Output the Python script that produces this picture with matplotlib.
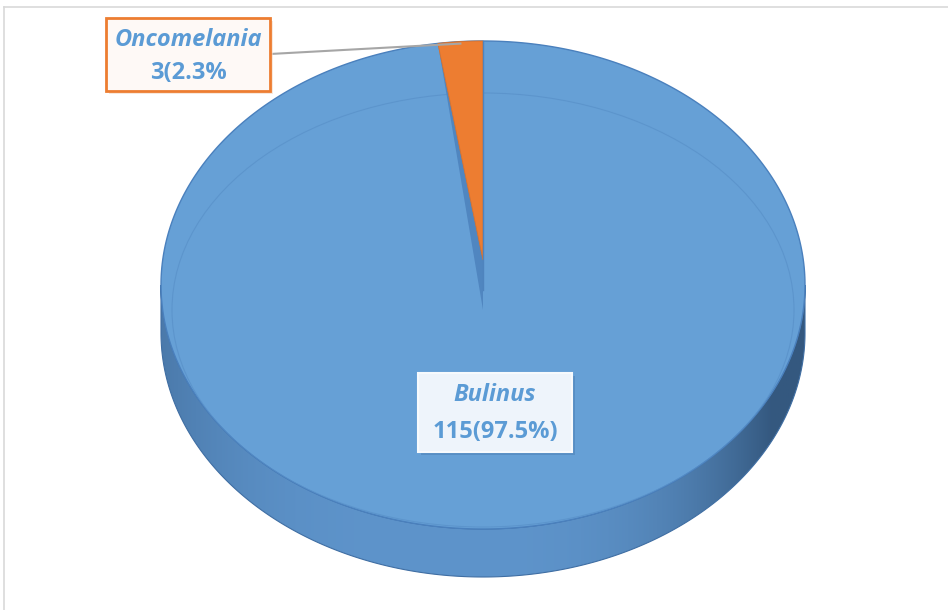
import numpy as np
import matplotlib.pyplot as plt
from matplotlib.patches import Polygon, Rectangle, Ellipse
from matplotlib.colors import to_rgb

# data
genera = ["Bulinus", "Oncomelania"]
counts = [115, 3]
value_labels = ["115(97.5%)", "3(2.3%"]
slice_colors = ["#66A0D6", "#ED7D31"]
text_color = "#5B9BD5"

W, H = 948, 610
cx, cy = 483, 285      # centre of top face (pixels)
rx, ry = 322, 244      # radii of top face
depth = 48             # thickness of the pie
persp = 0.88           # perspective squeeze of angles near the back rim


def rim(t):
    return cx + rx * np.cos(t), cy - ry * np.sin(t)


def main():
    fig = plt.figure(figsize=(W / 100, H / 100), dpi=100)
    ax = fig.add_axes([0, 0, 1, 1])
    ax.set_xlim(0, W)
    ax.set_ylim(H, 0)
    ax.axis("off")

    # chart frame (only top and left edges visible)
    ax.plot([4.5, 4.5], [6.5, H], color="#D9D9D9", lw=1.2)
    ax.plot([4.5, W], [6.5, 6.5], color="#D9D9D9", lw=1.2)

    # side wall of the pie
    t = np.linspace(np.pi, 2 * np.pi, 300)
    xs, ys = rim(t)
    side = np.column_stack([np.r_[xs, xs[::-1]], np.r_[ys, ys[::-1] + depth]])
    side_patch = Polygon(side, closed=True, facecolor="none", edgecolor="#3F6EA3", lw=0.8, zorder=2)
    ax.add_patch(side_patch)
    u = np.linspace(-1, 1, 400)
    light = np.array(to_rgb("#5E94CB"))
    dark_l = np.array(to_rgb("#44709F"))
    dark_r = np.array(to_rgb("#34587F"))
    w = np.clip(1 - np.abs(u + 0.1) ** 3, 0, 1)
    edge = np.where(u[:, None] < -0.1, dark_l, dark_r)
    grad = edge * (1 - w[:, None]) + light * w[:, None]
    img = ax.imshow(grad[None, :, :], extent=(cx - rx, cx + rx, cy + ry + depth, cy),
                    aspect="auto", zorder=1)
    img.set_clip_path(side_patch)

    # top face: big slice
    tt = np.linspace(0, 2 * np.pi, 600)
    tx, ty = rim(tt)
    top = Polygon(np.column_stack([tx, ty]), closed=True, facecolor=slice_colors[0],
                  edgecolor="#4A80BD", lw=1.0, zorder=3)
    ax.add_patch(top)
    bevel = Ellipse((cx, cy + 25), 2 * (rx - 11), 2 * (ry - 27), facecolor="none",
                    edgecolor="#5A92CA", lw=0.8, alpha=0.8, zorder=4)
    ax.add_patch(bevel)
    bevel.set_clip_path(top)

    # small slice, starting at 12 o'clock going counter-clockwise
    total = sum(counts)
    a0 = np.pi / 2
    a1 = a0 + 2 * np.pi * counts[1] / total * persp
    apex = (cx, cy - 25)
    arc = np.linspace(a0, a1, 30)
    axs, ays = rim(arc)
    rx1, ry1 = rim(a1)
    wall = Polygon([(rx1, ry1), (cx, cy + 25), apex], closed=True,
                   facecolor="#5086C0", edgecolor="none", zorder=5)
    ax.add_patch(wall)
    wedge = Polygon(np.column_stack([np.r_[apex[0], axs], np.r_[apex[1], ays]]), closed=True,
                    facecolor=slice_colors[1], edgecolor="#D9712C", lw=0.6, zorder=6)
    ax.add_patch(wedge)
    x0, y0 = rim(a0)
    ax.plot([x0, cx], [y0, cy + 5], color="#4F84BE", lw=1.0, zorder=6)

    # leader line to the small slice label
    mx, my = rim((a0 + a1) / 2)
    ax.plot([270, mx], [54, my + 2], color="#A6A6A6", lw=1.5, zorder=7)

    # label boxes
    ax.add_patch(Rectangle((109, 21), 164, 73, facecolor="#F4D9C6", edgecolor="none",
                           alpha=0.6, zorder=7))
    ax.add_patch(Rectangle((106, 18), 164, 73, facecolor="#FEF9F6", edgecolor=slice_colors[1],
                           lw=2.0, zorder=8))
    ax.add_patch(Rectangle((421, 376), 154, 79, facecolor="#4E82B8", edgecolor="none",
                           alpha=0.6, zorder=7))
    ax.add_patch(Rectangle((418, 373), 154, 79, facecolor="#EEF4FB", edgecolor="#F7FAFD",
                           lw=1.5, zorder=8))

    font = dict(family="Open Sans", fontsize=17, fontweight="bold", color=text_color,
                ha="center", va="center", zorder=9)
    ax.text(188, 40, genera[1], style="italic", **font)
    ax.text(188, 73, value_labels[1], **font)
    ax.text(495, 395, genera[0], style="italic", **font)
    ax.text(495, 432, value_labels[0], **font)

    fig.savefig("out.png", dpi=100)


if __name__ == "__main__":
    main()
